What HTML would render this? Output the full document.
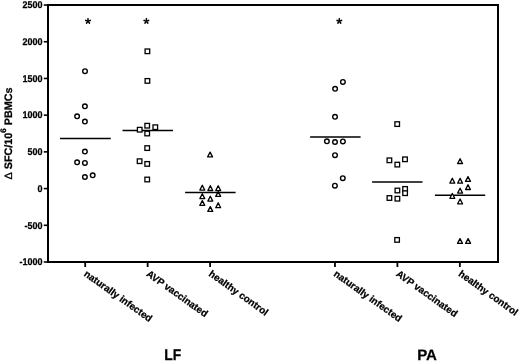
<!DOCTYPE html>
<html><head><meta charset="utf-8"><style>
html,body{margin:0;padding:0;background:#fff;}
svg{display:block;will-change:transform;}
text{font-family:"Liberation Sans",sans-serif;font-weight:bold;fill:#000;text-rendering:geometricPrecision;stroke:#000;stroke-width:0.25px;}
.tl{font-size:9.7px;}
.xl{font-size:9.8px;}
.ast{font-size:18px;}
.big{font-size:15px;}
.yl{font-size:10.8px;}
</style></head><body>
<svg width="520" height="362" viewBox="0 0 520 362">
<rect width="520" height="362" fill="#fff"/>
<path d="M48,5 H498 V262 H48 Z" fill="none" stroke="#000" stroke-width="2"/>
<line x1="43.8" y1="5.03" x2="48" y2="5.03" stroke="#000" stroke-width="1.6"/>
<text x="42.6" y="8.28" text-anchor="end" class="tl" textLength="20.02" lengthAdjust="spacingAndGlyphs">2500</text>
<line x1="43.8" y1="41.74" x2="48" y2="41.74" stroke="#000" stroke-width="1.6"/>
<text x="42.6" y="44.99" text-anchor="end" class="tl" textLength="20.02" lengthAdjust="spacingAndGlyphs">2000</text>
<line x1="43.8" y1="78.45" x2="48" y2="78.45" stroke="#000" stroke-width="1.6"/>
<text x="42.6" y="81.70" text-anchor="end" class="tl" textLength="20.02" lengthAdjust="spacingAndGlyphs">1500</text>
<line x1="43.8" y1="115.16" x2="48" y2="115.16" stroke="#000" stroke-width="1.6"/>
<text x="42.6" y="118.41" text-anchor="end" class="tl" textLength="20.02" lengthAdjust="spacingAndGlyphs">1000</text>
<line x1="43.8" y1="151.87" x2="48" y2="151.87" stroke="#000" stroke-width="1.6"/>
<text x="42.6" y="155.12" text-anchor="end" class="tl" textLength="15.01" lengthAdjust="spacingAndGlyphs">500</text>
<line x1="43.8" y1="188.58" x2="48" y2="188.58" stroke="#000" stroke-width="1.6"/>
<text x="42.6" y="191.83" text-anchor="end" class="tl" textLength="5.00" lengthAdjust="spacingAndGlyphs">0</text>
<line x1="43.8" y1="225.29" x2="48" y2="225.29" stroke="#000" stroke-width="1.6"/>
<text x="42.6" y="228.54" text-anchor="end" class="tl" textLength="18.01" lengthAdjust="spacingAndGlyphs">-500</text>
<line x1="43.8" y1="262.00" x2="48" y2="262.00" stroke="#000" stroke-width="1.6"/>
<text x="42.6" y="265.25" text-anchor="end" class="tl" textLength="23.01" lengthAdjust="spacingAndGlyphs">-1000</text>
<line x1="85.2" y1="262" x2="85.2" y2="267" stroke="#000" stroke-width="1.8"/>
<line x1="147.65" y1="262" x2="147.65" y2="267" stroke="#000" stroke-width="1.8"/>
<line x1="210.1" y1="262" x2="210.1" y2="267" stroke="#000" stroke-width="1.8"/>
<line x1="334.95" y1="262" x2="334.95" y2="267" stroke="#000" stroke-width="1.8"/>
<line x1="397.4" y1="262" x2="397.4" y2="267" stroke="#000" stroke-width="1.8"/>
<line x1="459.85" y1="262" x2="459.85" y2="267" stroke="#000" stroke-width="1.8"/>
<text transform="translate(83.20,275.2) rotate(35.5)" class="xl">naturally infected</text>
<text transform="translate(145.65,275.2) rotate(35.5)" class="xl">AVP vaccinated</text>
<text transform="translate(208.10,275.2) rotate(35.5)" class="xl">healthy control</text>
<text transform="translate(332.95,275.2) rotate(35.5)" class="xl">naturally infected</text>
<text transform="translate(395.40,275.2) rotate(35.5)" class="xl">AVP vaccinated</text>
<text transform="translate(457.85,275.2) rotate(35.5)" class="xl">healthy control</text>
<path d="M88.45,21.20L88.85,18.90A0.85,0.85 0 0 0 87.15,18.90L87.55,21.20ZM88.14,21.63L90.45,21.30A0.85,0.85 0 0 0 89.92,19.68L87.86,20.77ZM87.64,21.46L88.66,23.56A0.85,0.85 0 0 0 90.04,22.56L88.36,20.94ZM87.64,20.94L85.96,22.56A0.85,0.85 0 0 0 87.34,23.56L88.36,21.46ZM88.14,20.77L86.08,19.68A0.85,0.85 0 0 0 85.55,21.30L87.86,21.63Z" fill="#000"/>
<circle cx="88" cy="21.2" r="0.75" fill="#000"/>
<path d="M146.85,21.20L147.25,18.90A0.85,0.85 0 0 0 145.55,18.90L145.95,21.20ZM146.54,21.63L148.85,21.30A0.85,0.85 0 0 0 148.32,19.68L146.26,20.77ZM146.04,21.46L147.06,23.56A0.85,0.85 0 0 0 148.44,22.56L146.76,20.94ZM146.04,20.94L144.36,22.56A0.85,0.85 0 0 0 145.74,23.56L146.76,21.46ZM146.54,20.77L144.48,19.68A0.85,0.85 0 0 0 143.95,21.30L146.26,21.63Z" fill="#000"/>
<circle cx="146.4" cy="21.2" r="0.75" fill="#000"/>
<path d="M339.75,21.20L340.15,18.90A0.85,0.85 0 0 0 338.45,18.90L338.85,21.20ZM339.44,21.63L341.75,21.30A0.85,0.85 0 0 0 341.22,19.68L339.16,20.77ZM338.94,21.46L339.96,23.56A0.85,0.85 0 0 0 341.34,22.56L339.66,20.94ZM338.94,20.94L337.26,22.56A0.85,0.85 0 0 0 338.64,23.56L339.66,21.46ZM339.44,20.77L337.38,19.68A0.85,0.85 0 0 0 336.85,21.30L339.16,21.63Z" fill="#000"/>
<circle cx="339.3" cy="21.2" r="0.75" fill="#000"/>
<line x1="60" y1="138.6" x2="110.8" y2="138.6" stroke="#000" stroke-width="1.5"/>
<line x1="122.5" y1="130.5" x2="173" y2="130.5" stroke="#000" stroke-width="1.5"/>
<line x1="185.1" y1="192.4" x2="235.6" y2="192.4" stroke="#000" stroke-width="1.5"/>
<line x1="310.1" y1="137.1" x2="360.6" y2="137.1" stroke="#000" stroke-width="1.5"/>
<line x1="372.1" y1="181.9" x2="422.5" y2="181.9" stroke="#000" stroke-width="1.5"/>
<line x1="434.9" y1="195.3" x2="485.2" y2="195.3" stroke="#000" stroke-width="1.5"/>
<circle cx="85" cy="71.2" r="2.3" fill="#fff" stroke="#000" stroke-width="1.4"/>
<circle cx="84.9" cy="106.3" r="2.3" fill="#fff" stroke="#000" stroke-width="1.4"/>
<circle cx="77.1" cy="116.3" r="2.3" fill="#fff" stroke="#000" stroke-width="1.4"/>
<circle cx="84.9" cy="121.6" r="2.3" fill="#fff" stroke="#000" stroke-width="1.4"/>
<circle cx="84.9" cy="151.6" r="2.3" fill="#fff" stroke="#000" stroke-width="1.4"/>
<circle cx="77.1" cy="162.3" r="2.3" fill="#fff" stroke="#000" stroke-width="1.4"/>
<circle cx="84.9" cy="162.9" r="2.3" fill="#fff" stroke="#000" stroke-width="1.4"/>
<circle cx="84.9" cy="177" r="2.3" fill="#fff" stroke="#000" stroke-width="1.4"/>
<circle cx="92.7" cy="175.3" r="2.3" fill="#fff" stroke="#000" stroke-width="1.4"/>
<circle cx="342.9" cy="81.95" r="2.3" fill="#fff" stroke="#000" stroke-width="1.4"/>
<circle cx="335.1" cy="88.8" r="2.3" fill="#fff" stroke="#000" stroke-width="1.4"/>
<circle cx="335" cy="116.8" r="2.3" fill="#fff" stroke="#000" stroke-width="1.4"/>
<circle cx="326.9" cy="141.3" r="2.3" fill="#fff" stroke="#000" stroke-width="1.4"/>
<circle cx="335" cy="142" r="2.3" fill="#fff" stroke="#000" stroke-width="1.4"/>
<circle cx="342.9" cy="141.4" r="2.3" fill="#fff" stroke="#000" stroke-width="1.4"/>
<circle cx="335" cy="155.2" r="2.3" fill="#fff" stroke="#000" stroke-width="1.4"/>
<circle cx="342.8" cy="178.2" r="2.3" fill="#fff" stroke="#000" stroke-width="1.4"/>
<circle cx="334.9" cy="185.7" r="2.3" fill="#fff" stroke="#000" stroke-width="1.4"/>
<rect x="145.10" y="49.00" width="4.6" height="4.6" fill="#fff" stroke="#000" stroke-width="1.3"/>
<rect x="145.10" y="78.60" width="4.6" height="4.6" fill="#fff" stroke="#000" stroke-width="1.3"/>
<rect x="144.90" y="123.40" width="4.6" height="4.6" fill="#fff" stroke="#000" stroke-width="1.3"/>
<rect x="137.40" y="127.40" width="4.6" height="4.6" fill="#fff" stroke="#000" stroke-width="1.3"/>
<rect x="153.00" y="124.90" width="4.6" height="4.6" fill="#fff" stroke="#000" stroke-width="1.3"/>
<rect x="144.90" y="131.20" width="4.6" height="4.6" fill="#fff" stroke="#000" stroke-width="1.3"/>
<rect x="144.90" y="145.80" width="4.6" height="4.6" fill="#fff" stroke="#000" stroke-width="1.3"/>
<rect x="137.30" y="158.90" width="4.6" height="4.6" fill="#fff" stroke="#000" stroke-width="1.3"/>
<rect x="144.90" y="161.60" width="4.6" height="4.6" fill="#fff" stroke="#000" stroke-width="1.3"/>
<rect x="144.90" y="177.20" width="4.6" height="4.6" fill="#fff" stroke="#000" stroke-width="1.3"/>
<rect x="394.90" y="121.80" width="4.6" height="4.6" fill="#fff" stroke="#000" stroke-width="1.3"/>
<rect x="387.10" y="158.00" width="4.6" height="4.6" fill="#fff" stroke="#000" stroke-width="1.3"/>
<rect x="395.00" y="162.30" width="4.6" height="4.6" fill="#fff" stroke="#000" stroke-width="1.3"/>
<rect x="402.70" y="157.00" width="4.6" height="4.6" fill="#fff" stroke="#000" stroke-width="1.3"/>
<rect x="395.10" y="188.20" width="4.6" height="4.6" fill="#fff" stroke="#000" stroke-width="1.3"/>
<rect x="402.80" y="186.60" width="4.6" height="4.6" fill="#fff" stroke="#000" stroke-width="1.3"/>
<rect x="402.80" y="190.90" width="4.6" height="4.6" fill="#fff" stroke="#000" stroke-width="1.3"/>
<rect x="387.10" y="195.70" width="4.6" height="4.6" fill="#fff" stroke="#000" stroke-width="1.3"/>
<rect x="395.10" y="196.40" width="4.6" height="4.6" fill="#fff" stroke="#000" stroke-width="1.3"/>
<rect x="394.80" y="237.60" width="4.6" height="4.6" fill="#fff" stroke="#000" stroke-width="1.3"/>
<path d="M210.10,152.10L212.55,156.90L207.65,156.90Z" fill="#fff" stroke="#000" stroke-width="1.3" stroke-linejoin="round"/>
<path d="M202.30,185.30L204.75,190.10L199.85,190.10Z" fill="#fff" stroke="#000" stroke-width="1.3" stroke-linejoin="round"/>
<path d="M210.30,185.70L212.75,190.50L207.85,190.50Z" fill="#fff" stroke="#000" stroke-width="1.3" stroke-linejoin="round"/>
<path d="M218.20,185.80L220.65,190.60L215.75,190.60Z" fill="#fff" stroke="#000" stroke-width="1.3" stroke-linejoin="round"/>
<path d="M218.20,191.60L220.65,196.40L215.75,196.40Z" fill="#fff" stroke="#000" stroke-width="1.3" stroke-linejoin="round"/>
<path d="M202.30,193.80L204.75,198.60L199.85,198.60Z" fill="#fff" stroke="#000" stroke-width="1.3" stroke-linejoin="round"/>
<path d="M210.30,196.30L212.75,201.10L207.85,201.10Z" fill="#fff" stroke="#000" stroke-width="1.3" stroke-linejoin="round"/>
<path d="M202.30,200.60L204.75,205.40L199.85,205.40Z" fill="#fff" stroke="#000" stroke-width="1.3" stroke-linejoin="round"/>
<path d="M218.20,202.90L220.65,207.70L215.75,207.70Z" fill="#fff" stroke="#000" stroke-width="1.3" stroke-linejoin="round"/>
<path d="M210.30,206.60L212.75,211.40L207.85,211.40Z" fill="#fff" stroke="#000" stroke-width="1.3" stroke-linejoin="round"/>
<path d="M460.10,158.70L462.55,163.50L457.65,163.50Z" fill="#fff" stroke="#000" stroke-width="1.3" stroke-linejoin="round"/>
<path d="M452.30,178.30L454.75,183.10L449.85,183.10Z" fill="#fff" stroke="#000" stroke-width="1.3" stroke-linejoin="round"/>
<path d="M460.10,178.40L462.55,183.20L457.65,183.20Z" fill="#fff" stroke="#000" stroke-width="1.3" stroke-linejoin="round"/>
<path d="M468.00,176.60L470.45,181.40L465.55,181.40Z" fill="#fff" stroke="#000" stroke-width="1.3" stroke-linejoin="round"/>
<path d="M468.00,184.70L470.45,189.50L465.55,189.50Z" fill="#fff" stroke="#000" stroke-width="1.3" stroke-linejoin="round"/>
<path d="M460.10,188.30L462.55,193.10L457.65,193.10Z" fill="#fff" stroke="#000" stroke-width="1.3" stroke-linejoin="round"/>
<path d="M452.30,193.50L454.75,198.30L449.85,198.30Z" fill="#fff" stroke="#000" stroke-width="1.3" stroke-linejoin="round"/>
<path d="M460.10,199.00L462.55,203.80L457.65,203.80Z" fill="#fff" stroke="#000" stroke-width="1.3" stroke-linejoin="round"/>
<path d="M460.00,238.60L462.45,243.40L457.55,243.40Z" fill="#fff" stroke="#000" stroke-width="1.3" stroke-linejoin="round"/>
<path d="M468.10,238.60L470.55,243.40L465.65,243.40Z" fill="#fff" stroke="#000" stroke-width="1.3" stroke-linejoin="round"/>
<text x="172.85" y="360.4" text-anchor="middle" class="big" style="font-size:15.5px" textLength="17.0" lengthAdjust="spacingAndGlyphs">LF</text>
<text x="427" y="360.2" text-anchor="middle" class="big">PA</text>
<text transform="translate(11.7,133.5) rotate(-90)" text-anchor="middle" class="yl"><tspan font-weight="normal">&#916;</tspan> SFC/10<tspan dy="-5.4" font-size="8">6</tspan><tspan dy="5.4"> PBMCs</tspan></text>
</svg>
</body></html>
